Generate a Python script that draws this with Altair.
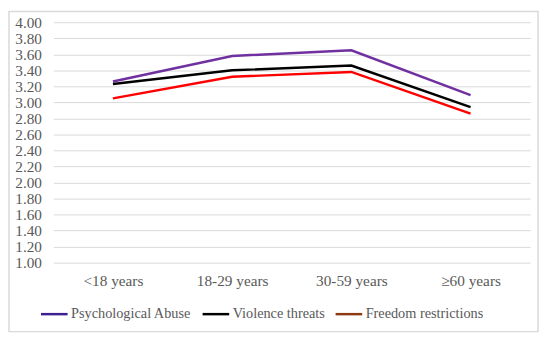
import altair as alt
import pandas as pd

categories = ["<18 years", "18-29 years", "30-59 years", "≥60 years"]
series = ["Psychological Abuse", "Violence threats", "Freedom restrictions"]
psych = [3.26, 3.58, 3.65, 3.09]
violence = [3.23, 3.40, 3.46, 2.94]
freedom = [3.05, 3.32, 3.38, 2.86]
y_ticks = [1.0, 1.2, 1.4, 1.6, 1.8, 2.0, 2.2, 2.4, 2.6, 2.8, 3.0, 3.2, 3.4, 3.6, 3.8, 4.0]

line_colors = ["#7030A0", "#000000", "#FF0000"]
legend_colors = ["#3D2090", "#000000", "#8B3A12"]

rows = []
for name, vals in zip(series, [psych, violence, freedom]):
    for c, v in zip(categories, vals):
        rows.append({"Age": c, "Series": name, "Value": v})
df = pd.DataFrame(rows)

FONT = "Liberation Serif"

x = alt.X("Age:N", sort=categories, title=None,
          scale=alt.Scale(paddingInner=0, paddingOuter=0),
          axis=alt.Axis(labelAngle=0, ticks=False, domain=False, grid=False,
                        labelFont=FONT, labelFontSize=15.5, labelColor="#595959",
                        labelPadding=11))
y = alt.Y("Value:Q", title=None,
          scale=alt.Scale(domain=[1, 4], nice=False, zero=False),
          axis=alt.Axis(values=y_ticks, format=".2f", ticks=False, domain=False,
                        grid=True, gridColor="#D9D9D9", gridWidth=1,
                        labelFont=FONT, labelFontSize=15.5, labelColor="#595959",
                        labelPadding=12))

lines = alt.Chart(df).mark_line(strokeWidth=2.5).encode(
    x=x, y=y,
    color=alt.Color("Series:N", sort=series,
                    scale=alt.Scale(domain=series, range=line_colors),
                    legend=None),
    detail="Series:N",
)

legend_layer = alt.Chart(df).mark_line(opacity=0).encode(
    x=x, y=y,
    stroke=alt.Stroke("Series:N", sort=series,
                      scale=alt.Scale(domain=series, range=legend_colors),
                      legend=alt.Legend(title=None, orient="none", direction="horizontal",
                                        legendX=-14, legendY=281,
                                        symbolType="stroke", symbolSize=729,
                                        symbolStrokeWidth=2.5, symbolOpacity=1,
                                        labelFont=FONT, labelFontSize=14.5,
                                        labelColor="#595959", labelOffset=2,
                                        columnPadding=5)),
)

border = alt.Chart(pd.DataFrame({"a": [0]})).mark_rect(
    fill=None, stroke="#D9D9D9", strokeWidth=1.5
).encode(x=alt.value(-45), x2=alt.value(492), y=alt.value(-11), y2=alt.value(314))

chart = alt.layer(border, lines, legend_layer).resolve_scale(
    color="independent", stroke="independent"
).properties(
    width=484, height=244,
    autosize=alt.AutoSizeParams(type="none"),
    padding={"left": 46, "top": 12, "right": 12, "bottom": 75},
).configure_view(stroke=None)

chart.save("out.html", embed_options={"renderer": "svg", "actions": False})
